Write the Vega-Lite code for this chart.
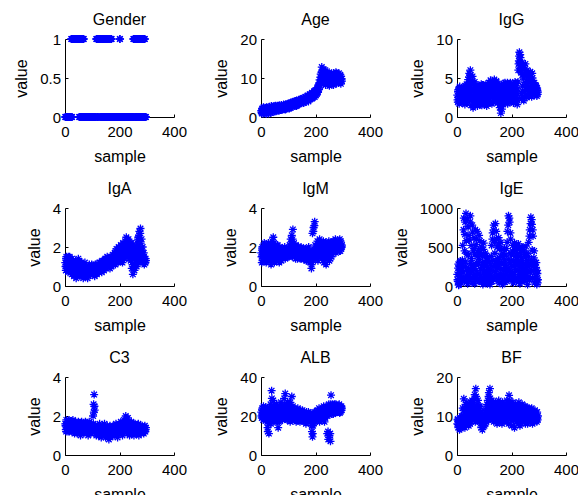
{
"$schema": "https://vega.github.io/schema/vega-lite/v6.json",
"background": "white",
"padding": {"left": 13, "top": 12, "right": 0, "bottom": 0},
"data": {"values": [
{"s":1,"Gender":0,"Age":1.6,"IgG":2.8,"IgA":1.2,"IgM":1.7,"IgE":150,"C3":1.6,"ALB":22,"BF":8},
{"s":3,"Gender":0,"Age":0.9,"IgG":1.9,"IgA":0.8,"IgM":1.2,"IgE":60,"C3":1.3,"ALB":19,"BF":9.2},
{"s":5,"Gender":0,"Age":2.2,"IgG":3.5,"IgA":1.5,"IgM":2.0,"IgE":280,"C3":1.8,"ALB":24,"BF":7},
{"s":7,"Gender":0,"Age":1.3,"IgG":2.3,"IgA":1.0,"IgM":1.5,"IgE":20,"C3":1.4,"ALB":20,"BF":8.6},
{"s":9,"Gender":0,"Age":2.5,"IgG":3.7,"IgA":1.4,"IgM":1.9,"IgE":210,"C3":1.7,"ALB":25,"BF":6.5},
{"s":11,"Gender":0,"Age":1.0,"IgG":2.0,"IgA":0.7,"IgM":1.3,"IgE":120,"C3":1.2,"ALB":18.5,"BF":9},
{"s":13,"Gender":0,"Age":1.9,"IgG":3.1,"IgA":1.3,"IgM":2.1,"IgE":320,"C3":1.5,"ALB":23,"BF":7.5},
{"s":15,"Gender":0,"Age":1.4,"IgG":2.5,"IgA":0.9,"IgM":1.6,"IgE":40,"C3":1.8,"ALB":21,"BF":8.3},
{"s":17,"Gender":0,"Age":2.3,"IgG":3.6,"IgA":1.5,"IgM":1.8,"IgE":240,"C3":1.3,"ALB":24.5,"BF":10},
{"s":19,"Gender":0,"Age":0.8,"IgG":1.8,"IgA":1.1,"IgM":1.2,"IgE":90,"C3":1.6,"ALB":19,"BF":7.2},
{"s":21,"Gender":0,"Age":1.7,"IgG":3.0,"IgA":0.8,"IgM":2.0,"IgE":520,"C3":1.4,"ALB":22,"BF":12},
{"s":23,"Gender":1,"Age":2.4,"IgG":2.2,"IgA":1.3,"IgM":1.4,"IgE":180,"C3":1.7,"ALB":17,"BF":8},
{"s":25,"Gender":0,"Age":1.1,"IgG":3.8,"IgA":0.6,"IgM":1.7,"IgE":870,"C3":1.2,"ALB":12,"BF":14.4},
{"s":27,"Gender":1,"Age":2.0,"IgG":2.6,"IgA":1.1,"IgM":2.2,"IgE":60,"C3":1.5,"ALB":20,"BF":9.5},
{"s":29,"Gender":1,"Age":1.5,"IgG":1.6,"IgA":0.9,"IgM":1.3,"IgE":660,"C3":1.8,"ALB":11,"BF":7},
{"s":31,"Gender":1,"Age":2.6,"IgG":3.4,"IgA":1.2,"IgM":1.9,"IgE":250,"C3":1.3,"ALB":23,"BF":13},
{"s":33,"Gender":1,"Age":1.2,"IgG":2.9,"IgA":0.5,"IgM":1.5,"IgE":930,"C3":1.6,"ALB":18,"BF":10.5},
{"s":35,"Gender":1,"Age":1.8,"IgG":4.2,"IgA":1.0,"IgM":2.1,"IgE":130,"C3":1.1,"ALB":26,"BF":8},
{"s":37,"Gender":1,"Age":2.2,"IgG":2.1,"IgA":0.7,"IgM":1.1,"IgE":410,"C3":1.5,"ALB":21,"BF":12.5},
{"s":39,"Gender":1,"Age":1.4,"IgG":3.3,"IgA":1.3,"IgM":1.8,"IgE":30,"C3":1.7,"ALB":33,"BF":9},
{"s":41,"Gender":1,"Age":2.0,"IgG":4.8,"IgA":0.4,"IgM":2.3,"IgE":760,"C3":1.3,"ALB":24,"BF":11},
{"s":43,"Gender":1,"Age":1.3,"IgG":2.5,"IgA":0.9,"IgM":1.4,"IgE":220,"C3":1.6,"ALB":19,"BF":7.5},
{"s":45,"Gender":1,"Age":2.7,"IgG":5.6,"IgA":1.1,"IgM":2.5,"IgE":590,"C3":1.1,"ALB":28,"BF":13},
{"s":47,"Gender":1,"Age":1.6,"IgG":3.2,"IgA":0.6,"IgM":1.6,"IgE":80,"C3":1.5,"ALB":17,"BF":9},
{"s":49,"Gender":1,"Age":2.3,"IgG":6.0,"IgA":1.4,"IgM":1.2,"IgE":900,"C3":1.7,"ALB":25,"BF":12},
{"s":51,"Gender":1,"Age":1.8,"IgG":1.5,"IgA":0.8,"IgM":2.0,"IgE":170,"C3":1.2,"ALB":21,"BF":8.5},
{"s":53,"Gender":0,"Age":2.9,"IgG":4.4,"IgA":1.2,"IgM":1.5,"IgE":350,"C3":1.4,"ALB":23,"BF":10},
{"s":55,"Gender":1,"Age":1.5,"IgG":2.8,"IgA":0.5,"IgM":1.9,"IgE":40,"C3":1.6,"ALB":18,"BF":14},
{"s":57,"Gender":0,"Age":2.4,"IgG":5.2,"IgA":1.0,"IgM":1.3,"IgE":690,"C3":1.0,"ALB":26,"BF":11.5},
{"s":59,"Gender":1,"Age":2.0,"IgG":1.2,"IgA":0.7,"IgM":1.7,"IgE":260,"C3":1.5,"ALB":20,"BF":9.5},
{"s":61,"Gender":0,"Age":2.6,"IgG":3.6,"IgA":1.1,"IgM":2.1,"IgE":120,"C3":1.7,"ALB":24,"BF":13},
{"s":63,"Gender":1,"Age":1.7,"IgG":2.0,"IgA":0.6,"IgM":1.4,"IgE":480,"C3":1.2,"ALB":14,"BF":10},
{"s":65,"Gender":0,"Age":2.2,"IgG":4.5,"IgA":0.9,"IgM":1.8,"IgE":30,"C3":1.4,"ALB":22,"BF":15.5},
{"s":67,"Gender":1,"Age":3.0,"IgG":1.6,"IgA":0.4,"IgM":1.2,"IgE":720,"C3":1.6,"ALB":17,"BF":8.5},
{"s":69,"Gender":1,"Age":1.9,"IgG":3.2,"IgA":1.0,"IgM":2.0,"IgE":200,"C3":1.1,"ALB":25,"BF":17},
{"s":71,"Gender":0,"Age":2.5,"IgG":2.6,"IgA":0.7,"IgM":1.5,"IgE":600,"C3":1.5,"ALB":19,"BF":11},
{"s":73,"Gender":0,"Age":2.1,"IgG":4.1,"IgA":1.2,"IgM":1.7,"IgE":90,"C3":1.3,"ALB":27,"BF":12.5},
{"s":75,"Gender":0,"Age":3.1,"IgG":1.4,"IgA":0.5,"IgM":1.3,"IgE":380,"C3":1.7,"ALB":21,"BF":9},
{"s":77,"Gender":0,"Age":1.8,"IgG":3.0,"IgA":0.8,"IgM":1.9,"IgE":150,"C3":1.2,"ALB":23,"BF":14},
{"s":79,"Gender":0,"Age":2.7,"IgG":2.3,"IgA":1.0,"IgM":1.6,"IgE":280,"C3":1.5,"ALB":18,"BF":10.5},
{"s":81,"Gender":0,"Age":2.3,"IgG":3.8,"IgA":0.6,"IgM":1.5,"IgE":650,"C3":1.3,"ALB":25,"BF":12},
{"s":83,"Gender":0,"Age":3.2,"IgG":1.8,"IgA":0.4,"IgM":1.9,"IgE":60,"C3":1.6,"ALB":20,"BF":8.5},
{"s":85,"Gender":0,"Age":2.0,"IgG":3.3,"IgA":0.9,"IgM":1.6,"IgE":430,"C3":1.0,"ALB":29,"BF":11},
{"s":87,"Gender":0,"Age":2.8,"IgG":2.7,"IgA":0.7,"IgM":2.0,"IgE":220,"C3":1.4,"ALB":22,"BF":9.5},
{"s":89,"Gender":0,"Age":2.4,"IgG":4.2,"IgA":1.1,"IgM":1.4,"IgE":500,"C3":1.7,"ALB":31.5,"BF":7},
{"s":91,"Gender":0,"Age":3.3,"IgG":1.5,"IgA":0.6,"IgM":1.8,"IgE":110,"C3":1.2,"ALB":19,"BF":10},
{"s":93,"Gender":0,"Age":2.1,"IgG":2.9,"IgA":0.9,"IgM":1.5,"IgE":300,"C3":1.5,"ALB":24,"BF":6.5},
{"s":95,"Gender":0,"Age":2.9,"IgG":3.5,"IgA":0.8,"IgM":1.9,"IgE":20,"C3":1.1,"ALB":21,"BF":9},
{"s":97,"Gender":0,"Age":2.6,"IgG":2.2,"IgA":1.0,"IgM":1.7,"IgE":470,"C3":1.6,"ALB":27,"BF":8},
{"s":99,"Gender":0,"Age":3.4,"IgG":4.0,"IgA":0.7,"IgM":1.5,"IgE":180,"C3":1.3,"ALB":18,"BF":10.5},
{"s":101,"Gender":0,"Age":2.5,"IgG":1.6,"IgA":0.9,"IgM":1.8,"IgE":260,"C3":1.4,"ALB":23,"BF":7.5},
{"s":103,"Gender":0,"Age":3.1,"IgG":3.1,"IgA":0.6,"IgM":1.5,"IgE":80,"C3":2.0,"ALB":20,"BF":9.5},
{"s":105,"Gender":0,"Age":2.8,"IgG":2.5,"IgA":1.0,"IgM":2.1,"IgE":390,"C3":2.6,"ALB":26,"BF":11},
{"s":107,"Gender":0,"Age":3.6,"IgG":3.9,"IgA":0.8,"IgM":1.6,"IgE":150,"C3":3.1,"ALB":17,"BF":8.5},
{"s":109,"Gender":0,"Age":2.4,"IgG":1.4,"IgA":0.5,"IgM":2.4,"IgE":330,"C3":2.3,"ALB":24,"BF":12},
{"s":111,"Gender":0,"Age":3.3,"IgG":2.8,"IgA":1.1,"IgM":1.7,"IgE":30,"C3":1.2,"ALB":21,"BF":10},
{"s":113,"Gender":0,"Age":3.0,"IgG":3.6,"IgA":0.7,"IgM":2.6,"IgE":240,"C3":1.5,"ALB":30,"BF":14},
{"s":115,"Gender":1,"Age":3.8,"IgG":2.1,"IgA":0.9,"IgM":1.5,"IgE":120,"C3":1.0,"ALB":19,"BF":9},
{"s":117,"Gender":1,"Age":2.7,"IgG":4.4,"IgA":0.6,"IgM":2.9,"IgE":190,"C3":1.4,"ALB":25,"BF":16},
{"s":119,"Gender":0,"Age":3.5,"IgG":2.6,"IgA":1.0,"IgM":1.8,"IgE":70,"C3":1.2,"ALB":22,"BF":11},
{"s":121,"Gender":1,"Age":3.2,"IgG":3.2,"IgA":0.8,"IgM":2.2,"IgE":20,"C3":1.5,"ALB":20,"BF":17},
{"s":123,"Gender":1,"Age":4.0,"IgG":4.7,"IgA":1.1,"IgM":1.6,"IgE":280,"C3":1.0,"ALB":18,"BF":12.5},
{"s":125,"Gender":0,"Age":2.9,"IgG":2.0,"IgA":0.7,"IgM":2.0,"IgE":140,"C3":1.3,"ALB":23,"BF":10},
{"s":127,"Gender":1,"Age":3.6,"IgG":3.8,"IgA":0.9,"IgM":1.4,"IgE":520,"C3":1.6,"ALB":21,"BF":14},
{"s":129,"Gender":1,"Age":3.3,"IgG":2.9,"IgA":1.2,"IgM":1.9,"IgE":60,"C3":1.1,"ALB":17,"BF":9},
{"s":131,"Gender":0,"Age":4.2,"IgG":4.3,"IgA":0.8,"IgM":1.7,"IgE":680,"C3":1.4,"ALB":22,"BF":13},
{"s":133,"Gender":1,"Age":3.0,"IgG":1.9,"IgA":1.0,"IgM":1.5,"IgE":250,"C3":0.9,"ALB":19,"BF":11},
{"s":135,"Gender":0,"Age":3.9,"IgG":3.5,"IgA":0.7,"IgM":2.0,"IgE":780,"C3":1.3,"ALB":24,"BF":8.5},
{"s":137,"Gender":1,"Age":3.5,"IgG":4.8,"IgA":1.3,"IgM":1.6,"IgE":110,"C3":1.5,"ALB":20,"BF":12},
{"s":139,"Gender":1,"Age":4.4,"IgG":2.4,"IgA":0.9,"IgM":1.8,"IgE":420,"C3":1.1,"ALB":18,"BF":10},
{"s":141,"Gender":0,"Age":3.4,"IgG":3.9,"IgA":1.1,"IgM":1.5,"IgE":800,"C3":1.4,"ALB":21,"BF":13.5},
{"s":143,"Gender":1,"Age":4.1,"IgG":2.2,"IgA":0.8,"IgM":1.9,"IgE":180,"C3":1.0,"ALB":17,"BF":9},
{"s":145,"Gender":0,"Age":3.8,"IgG":4.5,"IgA":1.3,"IgM":1.6,"IgE":600,"C3":1.6,"ALB":23,"BF":11.5},
{"s":147,"Gender":1,"Age":4.6,"IgG":3.0,"IgA":1.0,"IgM":2.0,"IgE":90,"C3":1.2,"ALB":19,"BF":8},
{"s":149,"Gender":0,"Age":3.5,"IgG":1.8,"IgA":1.4,"IgM":1.4,"IgE":350,"C3":0.9,"ALB":20,"BF":12.5},
{"s":151,"Gender":1,"Age":4.3,"IgG":4.0,"IgA":0.9,"IgM":1.8,"IgE":230,"C3":1.4,"ALB":22,"BF":10},
{"s":153,"Gender":0,"Age":4.0,"IgG":2.6,"IgA":1.2,"IgM":1.5,"IgE":620,"C3":1.1,"ALB":18,"BF":14},
{"s":155,"Gender":1,"Age":4.9,"IgG":3.4,"IgA":1.5,"IgM":1.9,"IgE":40,"C3":1.5,"ALB":21,"BF":8.5},
{"s":157,"Gender":0,"Age":3.7,"IgG":1.2,"IgA":1.0,"IgM":1.6,"IgE":480,"C3":1.0,"ALB":17,"BF":11},
{"s":159,"Gender":0,"Age":4.5,"IgG":2.9,"IgA":1.3,"IgM":1.7,"IgE":160,"C3":1.3,"ALB":20,"BF":13},
{"s":161,"Gender":1,"Age":4.2,"IgG":0.5,"IgA":1.1,"IgM":1.4,"IgE":560,"C3":0.8,"ALB":19,"BF":9.5},
{"s":163,"Gender":0,"Age":5.2,"IgG":2.2,"IgA":1.4,"IgM":1.9,"IgE":120,"C3":1.2,"ALB":21,"BF":12},
{"s":165,"Gender":1,"Age":3.9,"IgG":1.0,"IgA":0.9,"IgM":1.5,"IgE":300,"C3":1.5,"ALB":16,"BF":8},
{"s":167,"Gender":0,"Age":4.8,"IgG":3.3,"IgA":1.2,"IgM":1.8,"IgE":20,"C3":0.9,"ALB":22,"BF":13.5},
{"s":169,"Gender":0,"Age":4.5,"IgG":2.5,"IgA":1.5,"IgM":1.3,"IgE":410,"C3":1.3,"ALB":18,"BF":10.5},
{"s":171,"Gender":1,"Age":5.5,"IgG":4.3,"IgA":1.0,"IgM":1.7,"IgE":200,"C3":1.1,"ALB":20,"BF":11.5},
{"s":173,"Gender":0,"Age":4.2,"IgG":1.9,"IgA":1.3,"IgM":1.5,"IgE":90,"C3":1.4,"ALB":17,"BF":8.5},
{"s":175,"Gender":0,"Age":5.0,"IgG":3.7,"IgA":1.6,"IgM":2.0,"IgE":340,"C3":1.0,"ALB":21,"BF":13},
{"s":177,"Gender":0,"Age":4.7,"IgG":2.8,"IgA":1.1,"IgM":1.4,"IgE":150,"C3":1.5,"ALB":19,"BF":10},
{"s":179,"Gender":0,"Age":5.8,"IgG":4.1,"IgA":1.4,"IgM":1.6,"IgE":260,"C3":1.2,"ALB":20.5,"BF":12},
{"s":181,"Gender":0,"Age":4.6,"IgG":2.1,"IgA":1.2,"IgM":1.2,"IgE":480,"C3":1.4,"ALB":17,"BF":9},
{"s":183,"Gender":0,"Age":5.4,"IgG":3.6,"IgA":1.7,"IgM":1.7,"IgE":60,"C3":1.0,"ALB":21,"BF":14},
{"s":185,"Gender":0,"Age":5.0,"IgG":4.4,"IgA":1.1,"IgM":0.9,"IgE":700,"C3":1.3,"ALB":19,"BF":11},
{"s":187,"Gender":0,"Age":6.2,"IgG":2.4,"IgA":1.5,"IgM":1.5,"IgE":220,"C3":1.6,"ALB":12,"BF":12.5},
{"s":189,"Gender":0,"Age":4.8,"IgG":3.1,"IgA":1.9,"IgM":2.7,"IgE":900,"C3":1.1,"ALB":9.3,"BF":8},
{"s":191,"Gender":0,"Age":5.7,"IgG":1.9,"IgA":1.3,"IgM":1.3,"IgE":130,"C3":1.4,"ALB":15,"BF":15.3},
{"s":193,"Gender":0,"Age":5.3,"IgG":4.0,"IgA":1.6,"IgM":3.0,"IgE":820,"C3":0.9,"ALB":20,"BF":10},
{"s":195,"Gender":0,"Age":6.6,"IgG":2.7,"IgA":1.2,"IgM":1.8,"IgE":300,"C3":1.5,"ALB":18,"BF":13},
{"s":197,"Gender":0,"Age":5.1,"IgG":3.5,"IgA":2.0,"IgM":3.3,"IgE":600,"C3":1.2,"ALB":21,"BF":9},
{"s":199,"Gender":0,"Age":6.0,"IgG":2.2,"IgA":1.4,"IgM":2.1,"IgE":80,"C3":1.6,"ALB":17,"BF":12},
{"s":201,"Gender":1,"Age":5.6,"IgG":4.2,"IgA":1.7,"IgM":1.4,"IgE":400,"C3":1.1,"ALB":20,"BF":7.5},
{"s":203,"Gender":0,"Age":6.9,"IgG":2.6,"IgA":1.3,"IgM":2.0,"IgE":170,"C3":1.4,"ALB":22,"BF":11},
{"s":205,"Gender":0,"Age":5.9,"IgG":3.3,"IgA":2.1,"IgM":1.6,"IgE":520,"C3":1.7,"ALB":18,"BF":13.5},
{"s":207,"Gender":0,"Age":7.5,"IgG":1.8,"IgA":1.5,"IgM":2.3,"IgE":40,"C3":1.2,"ALB":23,"BF":9},
{"s":209,"Gender":0,"Age":6.3,"IgG":3.9,"IgA":1.8,"IgM":1.3,"IgE":260,"C3":1.5,"ALB":19,"BF":12},
{"s":211,"Gender":0,"Age":8.2,"IgG":2.9,"IgA":1.2,"IgM":2.1,"IgE":550,"C3":1.0,"ALB":21,"BF":7},
{"s":213,"Gender":0,"Age":7.0,"IgG":4.5,"IgA":2.2,"IgM":1.7,"IgE":110,"C3":1.6,"ALB":24,"BF":10.5},
{"s":215,"Gender":0,"Age":9.5,"IgG":2.0,"IgA":1.6,"IgM":2.4,"IgE":380,"C3":1.3,"ALB":17,"BF":13},
{"s":217,"Gender":0,"Age":8.0,"IgG":3.2,"IgA":1.9,"IgM":1.5,"IgE":210,"C3":1.8,"ALB":22,"BF":8.5},
{"s":219,"Gender":0,"Age":11.0,"IgG":2.5,"IgA":1.4,"IgM":1.9,"IgE":480,"C3":1.2,"ALB":20,"BF":11.5},
{"s":221,"Gender":0,"Age":9.0,"IgG":1.6,"IgA":2.3,"IgM":2.2,"IgE":90,"C3":1.5,"ALB":23,"BF":9.5},
{"s":223,"Gender":0,"Age":12.8,"IgG":3.6,"IgA":1.7,"IgM":1.4,"IgE":320,"C3":2.0,"ALB":18,"BF":12.5},
{"s":225,"Gender":0,"Age":10.0,"IgG":6.0,"IgA":2.5,"IgM":2.0,"IgE":540,"C3":1.3,"ALB":21,"BF":8},
{"s":227,"Gender":0,"Age":11.8,"IgG":7.2,"IgA":1.5,"IgM":1.6,"IgE":150,"C3":1.7,"ALB":24,"BF":13.5},
{"s":229,"Gender":0,"Age":8.5,"IgG":8.3,"IgA":2.0,"IgM":2.3,"IgE":250,"C3":1.1,"ALB":19,"BF":10},
{"s":231,"Gender":0,"Age":12.2,"IgG":6.6,"IgA":1.8,"IgM":1.2,"IgE":30,"C3":1.9,"ALB":22,"BF":7.5},
{"s":233,"Gender":0,"Age":9.8,"IgG":7.6,"IgA":2.4,"IgM":1.9,"IgE":430,"C3":1.4,"ALB":17,"BF":12},
{"s":235,"Gender":0,"Age":11.0,"IgG":5.7,"IgA":1.4,"IgM":1.5,"IgE":190,"C3":1.6,"ALB":23,"BF":9},
{"s":237,"Gender":0,"Age":8.2,"IgG":2.4,"IgA":2.1,"IgM":2.2,"IgE":360,"C3":1.0,"ALB":20,"BF":11},
{"s":239,"Gender":0,"Age":10.5,"IgG":7.0,"IgA":1.6,"IgM":1.1,"IgE":70,"C3":1.5,"ALB":25,"BF":13},
{"s":241,"Gender":0,"Age":9.0,"IgG":4.0,"IgA":1.3,"IgM":1.8,"IgE":490,"C3":1.3,"ALB":21,"BF":8.5},
{"s":243,"Gender":0,"Age":11.2,"IgG":6.3,"IgA":2.2,"IgM":1.4,"IgE":220,"C3":1.7,"ALB":11,"BF":11},
{"s":245,"Gender":0,"Age":8.3,"IgG":2.1,"IgA":0.9,"IgM":2.1,"IgE":120,"C3":1.1,"ALB":23,"BF":12.5},
{"s":247,"Gender":0,"Age":10.0,"IgG":5.5,"IgA":1.8,"IgM":1.6,"IgE":400,"C3":1.5,"ALB":8,"BF":9},
{"s":249,"Gender":0,"Age":9.5,"IgG":3.2,"IgA":0.6,"IgM":2.3,"IgE":60,"C3":1.2,"ALB":26,"BF":10.5},
{"s":251,"Gender":1,"Age":8.0,"IgG":6.8,"IgA":1.5,"IgM":1.3,"IgE":280,"C3":1.6,"ALB":10,"BF":8},
{"s":253,"Gender":0,"Age":10.8,"IgG":2.8,"IgA":2.0,"IgM":1.9,"IgE":510,"C3":1.0,"ALB":22,"BF":12},
{"s":255,"Gender":1,"Age":8.8,"IgG":4.6,"IgA":0.8,"IgM":1.7,"IgE":140,"C3":1.4,"ALB":7,"BF":9.5},
{"s":257,"Gender":1,"Age":9.6,"IgG":6.0,"IgA":1.7,"IgM":2.2,"IgE":330,"C3":1.6,"ALB":30.7,"BF":11.5},
{"s":259,"Gender":0,"Age":11.0,"IgG":3.5,"IgA":1.2,"IgM":1.5,"IgE":20,"C3":1.2,"ALB":24,"BF":8},
{"s":261,"Gender":1,"Age":8.4,"IgG":5.2,"IgA":1.9,"IgM":2.0,"IgE":250,"C3":1.4,"ALB":22,"BF":11},
{"s":263,"Gender":0,"Age":10.2,"IgG":2.7,"IgA":1.0,"IgM":1.7,"IgE":560,"C3":1.1,"ALB":26,"BF":9},
{"s":265,"Gender":1,"Age":9.1,"IgG":4.8,"IgA":2.2,"IgM":2.3,"IgE":80,"C3":1.5,"ALB":21,"BF":12},
{"s":267,"Gender":0,"Age":11.3,"IgG":3.6,"IgA":1.4,"IgM":1.8,"IgE":720,"C3":1.3,"ALB":24,"BF":10},
{"s":269,"Gender":1,"Age":8.7,"IgG":5.8,"IgA":2.5,"IgM":2.1,"IgE":180,"C3":1.6,"ALB":23,"BF":8.5},
{"s":271,"Gender":0,"Age":10.6,"IgG":2.9,"IgA":1.2,"IgM":1.9,"IgE":880,"C3":1.0,"ALB":25,"BF":11.5},
{"s":273,"Gender":1,"Age":9.3,"IgG":4.3,"IgA":2.8,"IgM":2.4,"IgE":320,"C3":1.4,"ALB":21.5,"BF":9.5},
{"s":275,"Gender":0,"Age":11.5,"IgG":3.4,"IgA":1.6,"IgM":1.7,"IgE":790,"C3":1.2,"ALB":26,"BF":11},
{"s":277,"Gender":1,"Age":8.6,"IgG":5.0,"IgA":2.95,"IgM":2.0,"IgE":100,"C3":1.5,"ALB":22,"BF":8},
{"s":279,"Gender":0,"Age":10.0,"IgG":3.0,"IgA":1.3,"IgM":2.2,"IgE":640,"C3":1.1,"ALB":24,"BF":10.5},
{"s":281,"Gender":0,"Age":9.4,"IgG":4.2,"IgA":2.4,"IgM":1.8,"IgE":260,"C3":1.3,"ALB":25,"BF":9.5},
{"s":283,"Gender":1,"Age":11.0,"IgG":2.8,"IgA":1.5,"IgM":2.3,"IgE":450,"C3":1.5,"ALB":22,"BF":11},
{"s":285,"Gender":0,"Age":8.8,"IgG":3.6,"IgA":2.0,"IgM":1.9,"IgE":40,"C3":1.2,"ALB":23,"BF":8.5},
{"s":287,"Gender":1,"Age":10.3,"IgG":4.1,"IgA":1.2,"IgM":2.1,"IgE":210,"C3":1.4,"ALB":26,"BF":10},
{"s":289,"Gender":0,"Age":9.0,"IgG":3.0,"IgA":1.7,"IgM":2.4,"IgE":120,"C3":1.1,"ALB":21.5,"BF":9},
{"s":291,"Gender":0,"Age":10.8,"IgG":3.8,"IgA":1.1,"IgM":1.8,"IgE":300,"C3":1.3,"ALB":24,"BF":10.5},
{"s":293,"Gender":1,"Age":8.5,"IgG":2.7,"IgA":1.4,"IgM":2.2,"IgE":20,"C3":1.5,"ALB":23,"BF":8.5},
{"s":295,"Gender":0,"Age":9.7,"IgG":3.4,"IgA":1.2,"IgM":2.0,"IgE":160,"C3":1.2,"ALB":25,"BF":9.5},
{"s":297,"Gender":0,"Age":9.2,"IgG":3.2,"IgA":1.3,"IgM":2.1,"IgE":80,"C3":1.4,"ALB":24,"BF":10},
{"s":2,"Gender":0,"Age":1.2,"IgG":2.2,"IgA":1.0,"IgM":1.5,"IgE":80,"C3":1.5,"ALB":20,"BF":9},
{"s":4,"Gender":0,"Age":2.0,"IgG":3.3,"IgA":1.4,"IgM":1.9,"IgE":230,"C3":1.2,"ALB":23,"BF":7.8},
{"s":6,"Gender":0,"Age":1.5,"IgG":2.6,"IgA":0.9,"IgM":1.3,"IgE":10,"C3":1.6,"ALB":21.5,"BF":8.8},
{"s":8,"Gender":0,"Age":0.9,"IgG":1.7,"IgA":1.3,"IgM":1.7,"IgE":170,"C3":1.4,"ALB":18,"BF":7.5},
{"s":10,"Gender":0,"Age":2.4,"IgG":3.9,"IgA":1.1,"IgM":1.4,"IgE":300,"C3":1.3,"ALB":22,"BF":9.5},
{"s":12,"Gender":0,"Age":1.7,"IgG":2.9,"IgA":1.5,"IgM":2.2,"IgE":60,"C3":1.7,"ALB":24,"BF":8},
{"s":14,"Gender":0,"Age":1.1,"IgG":2.1,"IgA":0.8,"IgM":1.6,"IgE":190,"C3":1.4,"ALB":20,"BF":6.8},
{"s":16,"Gender":0,"Age":2.1,"IgG":3.4,"IgA":1.2,"IgM":1.9,"IgE":260,"C3":1.2,"ALB":22.5,"BF":9.2},
{"s":18,"Gender":0,"Age":1.6,"IgG":2.4,"IgA":1.0,"IgM":1.4,"IgE":110,"C3":1.6,"ALB":18,"BF":8.5},
{"s":20,"Gender":0,"Age":2.5,"IgG":3.0,"IgA":1.4,"IgM":1.7,"IgE":330,"C3":1.4,"ALB":23,"BF":8.8},
{"s":22,"Gender":0,"Age":1.3,"IgG":2.4,"IgA":1.1,"IgM":1.6,"IgE":280,"C3":1.6,"ALB":19,"BF":10},
{"s":24,"Gender":1,"Age":2.1,"IgG":3.6,"IgA":0.7,"IgM":1.9,"IgE":720,"C3":1.3,"ALB":14,"BF":11.5},
{"s":26,"Gender":0,"Age":1.8,"IgG":1.9,"IgA":1.4,"IgM":1.4,"IgE":100,"C3":1.5,"ALB":21,"BF":9},
{"s":28,"Gender":1,"Age":0.9,"IgG":3.1,"IgA":0.8,"IgM":1.7,"IgE":450,"C3":1.7,"ALB":16,"BF":12},
{"s":30,"Gender":1,"Age":2.5,"IgG":4.0,"IgA":1.2,"IgM":2.0,"IgE":820,"C3":1.2,"ALB":24,"BF":10.5},
{"s":32,"Gender":1,"Age":1.6,"IgG":2.3,"IgA":0.6,"IgM":1.5,"IgE":310,"C3":1.5,"ALB":20,"BF":8.5},
{"s":34,"Gender":1,"Age":2.2,"IgG":3.7,"IgA":1.1,"IgM":1.8,"IgE":580,"C3":1.3,"ALB":22,"BF":11},
{"s":36,"Gender":1,"Age":1.0,"IgG":1.8,"IgA":0.9,"IgM":1.3,"IgE":200,"C3":1.6,"ALB":16,"BF":13.5},
{"s":38,"Gender":1,"Age":2.8,"IgG":2.7,"IgA":1.2,"IgM":2.0,"IgE":860,"C3":1.4,"ALB":25,"BF":10},
{"s":40,"Gender":1,"Age":1.7,"IgG":4.1,"IgA":0.8,"IgM":1.5,"IgE":120,"C3":1.2,"ALB":29,"BF":11.5},
{"s":42,"Gender":1,"Age":2.5,"IgG":3.6,"IgA":0.7,"IgM":1.7,"IgE":400,"C3":1.5,"ALB":20,"BF":9.5},
{"s":44,"Gender":1,"Age":1.7,"IgG":5.1,"IgA":1.2,"IgM":2.0,"IgE":650,"C3":1.3,"ALB":23,"BF":12},
{"s":46,"Gender":1,"Age":2.1,"IgG":2.2,"IgA":0.5,"IgM":1.8,"IgE":130,"C3":1.6,"ALB":18,"BF":10.5},
{"s":48,"Gender":1,"Age":2.8,"IgG":4.0,"IgA":1.0,"IgM":2.2,"IgE":820,"C3":1.2,"ALB":22,"BF":8},
{"s":50,"Gender":1,"Age":1.4,"IgG":5.4,"IgA":0.8,"IgM":1.5,"IgE":290,"C3":1.4,"ALB":26,"BF":13.5},
{"s":52,"Gender":0,"Age":2.6,"IgG":3.4,"IgA":1.3,"IgM":1.7,"IgE":520,"C3":1.5,"ALB":19,"BF":11},
{"s":54,"Gender":1,"Age":1.9,"IgG":2.3,"IgA":0.6,"IgM":2.1,"IgE":210,"C3":1.2,"ALB":24,"BF":12.5},
{"s":56,"Gender":0,"Age":2.3,"IgG":4.7,"IgA":1.1,"IgM":1.4,"IgE":780,"C3":1.4,"ALB":20,"BF":10},
{"s":58,"Gender":1,"Age":1.6,"IgG":3.6,"IgA":0.9,"IgM":1.8,"IgE":100,"C3":1.3,"ALB":22,"BF":13},
{"s":60,"Gender":0,"Age":2.9,"IgG":2.1,"IgA":1.2,"IgM":1.5,"IgE":450,"C3":1.6,"ALB":17,"BF":12},
{"s":62,"Gender":1,"Age":2.0,"IgG":2.9,"IgA":0.8,"IgM":1.6,"IgE":620,"C3":1.4,"ALB":20,"BF":11},
{"s":64,"Gender":0,"Age":2.8,"IgG":4.0,"IgA":1.0,"IgM":1.9,"IgE":250,"C3":1.5,"ALB":22,"BF":14.5},
{"s":66,"Gender":1,"Age":1.6,"IgG":2.5,"IgA":0.6,"IgM":1.5,"IgE":410,"C3":1.3,"ALB":18,"BF":9.5},
{"s":68,"Gender":0,"Age":2.4,"IgG":3.7,"IgA":1.1,"IgM":1.7,"IgE":110,"C3":1.2,"ALB":23,"BF":12},
{"s":70,"Gender":0,"Age":2.7,"IgG":1.9,"IgA":0.5,"IgM":1.4,"IgE":530,"C3":1.6,"ALB":21,"BF":15},
{"s":72,"Gender":0,"Age":1.8,"IgG":3.4,"IgA":0.9,"IgM":1.8,"IgE":300,"C3":1.3,"ALB":25,"BF":10},
{"s":74,"Gender":0,"Age":2.9,"IgG":2.2,"IgA":0.7,"IgM":1.6,"IgE":700,"C3":1.5,"ALB":19,"BF":13},
{"s":76,"Gender":0,"Age":2.3,"IgG":3.9,"IgA":1.0,"IgM":1.9,"IgE":160,"C3":1.4,"ALB":22,"BF":11.5},
{"s":78,"Gender":0,"Age":2.6,"IgG":2.7,"IgA":0.6,"IgM":1.5,"IgE":460,"C3":1.6,"ALB":20,"BF":10},
{"s":80,"Gender":0,"Age":2.0,"IgG":1.7,"IgA":0.8,"IgM":1.8,"IgE":60,"C3":1.3,"ALB":24,"BF":12.5},
{"s":82,"Gender":0,"Age":2.8,"IgG":2.5,"IgA":0.9,"IgM":1.7,"IgE":340,"C3":1.5,"ALB":21,"BF":10},
{"s":84,"Gender":0,"Age":2.2,"IgG":3.9,"IgA":0.7,"IgM":1.6,"IgE":580,"C3":1.2,"ALB":23,"BF":12.5},
{"s":86,"Gender":0,"Age":3.0,"IgG":1.6,"IgA":0.5,"IgM":1.8,"IgE":130,"C3":1.4,"ALB":19,"BF":8},
{"s":88,"Gender":0,"Age":2.5,"IgG":3.6,"IgA":1.0,"IgM":1.5,"IgE":400,"C3":1.5,"ALB":26,"BF":11},
{"s":90,"Gender":0,"Age":1.9,"IgG":2.3,"IgA":0.8,"IgM":1.9,"IgE":260,"C3":1.3,"ALB":22,"BF":9},
{"s":92,"Gender":0,"Age":2.7,"IgG":3.2,"IgA":1.0,"IgM":1.6,"IgE":90,"C3":1.4,"ALB":20,"BF":8.5},
{"s":94,"Gender":0,"Age":3.2,"IgG":4.1,"IgA":0.6,"IgM":1.7,"IgE":380,"C3":1.2,"ALB":25,"BF":10.5},
{"s":96,"Gender":0,"Age":2.3,"IgG":1.9,"IgA":0.7,"IgM":1.5,"IgE":200,"C3":1.5,"ALB":18,"BF":7.5},
{"s":98,"Gender":0,"Age":3.0,"IgG":3.7,"IgA":1.1,"IgM":1.8,"IgE":550,"C3":1.3,"ALB":22,"BF":10},
{"s":100,"Gender":0,"Age":2.6,"IgG":2.9,"IgA":0.9,"IgM":1.6,"IgE":40,"C3":1.5,"ALB":21,"BF":9},
{"s":102,"Gender":0,"Age":3.4,"IgG":3.5,"IgA":0.7,"IgM":1.6,"IgE":150,"C3":1.2,"ALB":19,"BF":10},
{"s":104,"Gender":0,"Age":2.2,"IgG":2.0,"IgA":1.0,"IgM":1.9,"IgE":420,"C3":1.6,"ALB":24,"BF":8},
{"s":106,"Gender":0,"Age":3.2,"IgG":4.2,"IgA":0.8,"IgM":1.7,"IgE":50,"C3":2.2,"ALB":21,"BF":11.5},
{"s":108,"Gender":0,"Age":2.6,"IgG":3.0,"IgA":0.6,"IgM":2.0,"IgE":290,"C3":2.5,"ALB":27,"BF":9.5},
{"s":110,"Gender":0,"Age":3.7,"IgG":2.3,"IgA":1.0,"IgM":1.6,"IgE":110,"C3":1.5,"ALB":20,"BF":13},
{"s":112,"Gender":0,"Age":2.9,"IgG":4.0,"IgA":0.8,"IgM":2.2,"IgE":360,"C3":1.3,"ALB":23,"BF":10.5},
{"s":114,"Gender":0,"Age":2.6,"IgG":1.7,"IgA":1.1,"IgM":1.8,"IgE":210,"C3":1.1,"ALB":18,"BF":12},
{"s":116,"Gender":1,"Age":3.3,"IgG":3.3,"IgA":0.7,"IgM":2.4,"IgE":60,"C3":1.3,"ALB":22,"BF":15},
{"s":118,"Gender":0,"Age":3.9,"IgG":2.9,"IgA":0.9,"IgM":1.6,"IgE":310,"C3":1.1,"ALB":20,"BF":10},
{"s":120,"Gender":1,"Age":3.1,"IgG":3.8,"IgA":0.8,"IgM":2.0,"IgE":140,"C3":1.4,"ALB":24,"BF":13.5},
{"s":122,"Gender":0,"Age":3.6,"IgG":2.6,"IgA":1.0,"IgM":1.8,"IgE":200,"C3":1.2,"ALB":22,"BF":14.5},
{"s":124,"Gender":1,"Age":3.0,"IgG":4.1,"IgA":0.7,"IgM":1.5,"IgE":90,"C3":1.4,"ALB":19,"BF":11},
{"s":126,"Gender":1,"Age":4.1,"IgG":3.4,"IgA":1.2,"IgM":1.7,"IgE":380,"C3":1.0,"ALB":21,"BF":13},
{"s":128,"Gender":0,"Age":3.4,"IgG":1.7,"IgA":0.8,"IgM":2.1,"IgE":60,"C3":1.2,"ALB":18,"BF":10},
{"s":130,"Gender":1,"Age":2.8,"IgG":4.5,"IgA":1.0,"IgM":1.6,"IgE":600,"C3":1.3,"ALB":20,"BF":12},
{"s":132,"Gender":1,"Age":3.9,"IgG":2.6,"IgA":1.1,"IgM":1.9,"IgE":330,"C3":1.1,"ALB":23,"BF":9.5},
{"s":134,"Gender":0,"Age":3.6,"IgG":4.0,"IgA":0.8,"IgM":1.4,"IgE":720,"C3":1.4,"ALB":21,"BF":13.5},
{"s":136,"Gender":1,"Age":3.2,"IgG":2.8,"IgA":1.2,"IgM":1.7,"IgE":190,"C3":1.0,"ALB":19,"BF":10.5},
{"s":138,"Gender":0,"Age":4.3,"IgG":3.4,"IgA":1.0,"IgM":2.0,"IgE":560,"C3":1.2,"ALB":22,"BF":11},
{"s":140,"Gender":1,"Age":3.7,"IgG":4.4,"IgA":1.1,"IgM":1.5,"IgE":260,"C3":1.4,"ALB":20,"BF":12.5},
{"s":142,"Gender":1,"Age":3.8,"IgG":3.0,"IgA":1.3,"IgM":1.7,"IgE":310,"C3":1.2,"ALB":19,"BF":10.5},
{"s":144,"Gender":0,"Age":4.4,"IgG":4.6,"IgA":1.0,"IgM":1.4,"IgE":700,"C3":1.3,"ALB":22,"BF":12},
{"s":146,"Gender":1,"Age":3.6,"IgG":2.5,"IgA":1.1,"IgM":1.8,"IgE":140,"C3":1.1,"ALB":18,"BF":9.5},
{"s":148,"Gender":0,"Age":4.0,"IgG":3.7,"IgA":1.4,"IgM":1.6,"IgE":500,"C3":1.4,"ALB":21,"BF":13},
{"s":150,"Gender":1,"Age":4.7,"IgG":4.2,"IgA":1.1,"IgM":1.9,"IgE":280,"C3":1.2,"ALB":19,"BF":10},
{"s":152,"Gender":0,"Age":3.9,"IgG":2.3,"IgA":1.2,"IgM":1.5,"IgE":60,"C3":1.1,"ALB":23,"BF":11.5},
{"s":154,"Gender":1,"Age":4.4,"IgG":3.8,"IgA":1.4,"IgM":1.7,"IgE":540,"C3":1.3,"ALB":20,"BF":9},
{"s":156,"Gender":0,"Age":3.6,"IgG":2.0,"IgA":1.1,"IgM":1.4,"IgE":300,"C3":1.2,"ALB":18,"BF":12.5},
{"s":158,"Gender":1,"Age":4.8,"IgG":3.1,"IgA":1.3,"IgM":1.9,"IgE":120,"C3":1.4,"ALB":22,"BF":10},
{"s":160,"Gender":0,"Age":4.2,"IgG":1.5,"IgA":1.1,"IgM":1.5,"IgE":380,"C3":1.1,"ALB":19,"BF":11.5},
{"s":162,"Gender":1,"Age":4.6,"IgG":1.4,"IgA":1.3,"IgM":1.6,"IgE":220,"C3":1.0,"ALB":20,"BF":11},
{"s":164,"Gender":0,"Age":4.0,"IgG":3.0,"IgA":1.1,"IgM":1.7,"IgE":470,"C3":1.3,"ALB":18,"BF":10},
{"s":166,"Gender":0,"Age":5.0,"IgG":2.0,"IgA":1.4,"IgM":1.3,"IgE":60,"C3":1.1,"ALB":21,"BF":12.5},
{"s":168,"Gender":1,"Age":4.4,"IgG":3.9,"IgA":1.0,"IgM":1.6,"IgE":380,"C3":1.2,"ALB":19,"BF":9},
{"s":170,"Gender":1,"Age":5.3,"IgG":1.6,"IgA":1.3,"IgM":1.8,"IgE":150,"C3":1.0,"ALB":20,"BF":12},
{"s":172,"Gender":0,"Age":4.6,"IgG":3.5,"IgA":1.5,"IgM":1.5,"IgE":290,"C3":1.3,"ALB":18,"BF":10},
{"s":174,"Gender":0,"Age":4.0,"IgG":2.7,"IgA":1.2,"IgM":1.7,"IgE":480,"C3":1.2,"ALB":22,"BF":11.5},
{"s":176,"Gender":0,"Age":5.4,"IgG":4.4,"IgA":1.4,"IgM":1.3,"IgE":50,"C3":1.3,"ALB":18,"BF":9.5},
{"s":178,"Gender":0,"Age":4.9,"IgG":2.2,"IgA":1.5,"IgM":1.8,"IgE":230,"C3":1.1,"ALB":21,"BF":12.5},
{"s":180,"Gender":0,"Age":5.2,"IgG":3.2,"IgA":1.2,"IgM":1.5,"IgE":400,"C3":1.4,"ALB":18,"BF":10.5},
{"s":182,"Gender":0,"Age":5.1,"IgG":3.9,"IgA":1.5,"IgM":1.5,"IgE":180,"C3":1.2,"ALB":20,"BF":12},
{"s":184,"Gender":0,"Age":5.8,"IgG":2.8,"IgA":1.3,"IgM":1.3,"IgE":560,"C3":1.5,"ALB":18,"BF":10.5},
{"s":186,"Gender":0,"Age":4.7,"IgG":1.7,"IgA":1.8,"IgM":1.1,"IgE":90,"C3":1.1,"ALB":15,"BF":13.5},
{"s":188,"Gender":0,"Age":5.5,"IgG":3.7,"IgA":1.4,"IgM":1.8,"IgE":780,"C3":1.3,"ALB":19,"BF":10},
{"s":190,"Gender":0,"Age":6.0,"IgG":4.2,"IgA":1.6,"IgM":1.4,"IgE":340,"C3":1.3,"ALB":11,"BF":12},
{"s":192,"Gender":0,"Age":5.2,"IgG":2.6,"IgA":1.7,"IgM":2.8,"IgE":870,"C3":1.2,"ALB":20,"BF":11},
{"s":194,"Gender":0,"Age":6.3,"IgG":3.2,"IgA":1.3,"IgM":1.6,"IgE":200,"C3":1.4,"ALB":17,"BF":14},
{"s":196,"Gender":0,"Age":5.6,"IgG":4.4,"IgA":1.8,"IgM":3.1,"IgE":680,"C3":1.1,"ALB":22,"BF":10.5},
{"s":198,"Gender":0,"Age":6.8,"IgG":2.0,"IgA":1.5,"IgM":1.5,"IgE":420,"C3":1.4,"ALB":19,"BF":13},
{"s":200,"Gender":0,"Age":5.5,"IgG":3.6,"IgA":1.7,"IgM":1.8,"IgE":140,"C3":1.3,"ALB":21,"BF":10},
{"s":202,"Gender":1,"Age":6.4,"IgG":2.8,"IgA":1.5,"IgM":1.8,"IgE":250,"C3":1.3,"ALB":18,"BF":10},
{"s":204,"Gender":0,"Age":6.2,"IgG":3.8,"IgA":1.9,"IgM":1.5,"IgE":450,"C3":1.2,"ALB":21,"BF":12.5},
{"s":206,"Gender":0,"Age":7.0,"IgG":2.3,"IgA":1.4,"IgM":2.0,"IgE":90,"C3":1.4,"ALB":20,"BF":9.5},
{"s":208,"Gender":0,"Age":6.8,"IgG":4.1,"IgA":2.0,"IgM":1.7,"IgE":330,"C3":1.5,"ALB":19,"BF":11},
{"s":210,"Gender":0,"Age":7.8,"IgG":2.5,"IgA":1.6,"IgM":1.9,"IgE":150,"C3":1.3,"ALB":22,"BF":10},
{"s":212,"Gender":0,"Age":7.2,"IgG":3.6,"IgA":1.9,"IgM":1.6,"IgE":460,"C3":1.4,"ALB":18,"BF":12.5},
{"s":214,"Gender":0,"Age":8.6,"IgG":1.9,"IgA":1.5,"IgM":2.2,"IgE":280,"C3":1.2,"ALB":20,"BF":9},
{"s":216,"Gender":0,"Age":8.8,"IgG":3.8,"IgA":2.1,"IgM":1.8,"IgE":520,"C3":1.5,"ALB":22,"BF":11},
{"s":218,"Gender":0,"Age":10.2,"IgG":4.3,"IgA":1.7,"IgM":2.1,"IgE":60,"C3":1.4,"ALB":19,"BF":12},
{"s":220,"Gender":0,"Age":9.6,"IgG":3.0,"IgA":2.0,"IgM":1.6,"IgE":300,"C3":1.6,"ALB":23,"BF":10},
{"s":222,"Gender":0,"Age":11.4,"IgG":2.2,"IgA":1.9,"IgM":1.8,"IgE":410,"C3":1.7,"ALB":21,"BF":11},
{"s":224,"Gender":0,"Age":10.6,"IgG":4.5,"IgA":2.1,"IgM":2.1,"IgE":200,"C3":1.4,"ALB":20,"BF":10.5},
{"s":226,"Gender":0,"Age":12.0,"IgG":6.8,"IgA":1.6,"IgM":1.5,"IgE":380,"C3":1.8,"ALB":23,"BF":12},
{"s":228,"Gender":0,"Age":9.5,"IgG":7.8,"IgA":2.2,"IgM":2.0,"IgE":60,"C3":1.5,"ALB":21,"BF":9},
{"s":230,"Gender":0,"Age":10.8,"IgG":7.0,"IgA":1.7,"IgM":1.7,"IgE":470,"C3":1.6,"ALB":25,"BF":11.5},
{"s":232,"Gender":0,"Age":11.5,"IgG":8.0,"IgA":2.3,"IgM":2.2,"IgE":300,"C3":1.3,"ALB":20,"BF":10.5},
{"s":234,"Gender":0,"Age":9.2,"IgG":6.2,"IgA":1.6,"IgM":1.4,"IgE":120,"C3":1.7,"ALB":24,"BF":9},
{"s":236,"Gender":0,"Age":12.0,"IgG":3.0,"IgA":2.0,"IgM":2.0,"IgE":260,"C3":1.4,"ALB":19,"BF":12.5},
{"s":238,"Gender":0,"Age":9.6,"IgG":6.5,"IgA":1.8,"IgM":1.6,"IgE":500,"C3":1.3,"ALB":22,"BF":10},
{"s":240,"Gender":0,"Age":11.3,"IgG":5.4,"IgA":2.2,"IgM":1.9,"IgE":180,"C3":1.6,"ALB":23,"BF":11},
{"s":242,"Gender":0,"Age":10.2,"IgG":3.3,"IgA":1.8,"IgM":2.0,"IgE":300,"C3":1.5,"ALB":24,"BF":10},
{"s":244,"Gender":0,"Age":9.4,"IgG":5.0,"IgA":1.4,"IgM":1.5,"IgE":80,"C3":1.3,"ALB":20,"BF":12},
{"s":246,"Gender":0,"Age":10.9,"IgG":6.6,"IgA":1.9,"IgM":1.8,"IgE":450,"C3":1.4,"ALB":12,"BF":9.5},
{"s":248,"Gender":0,"Age":8.5,"IgG":2.6,"IgA":1.1,"IgM":2.2,"IgE":180,"C3":1.6,"ALB":22,"BF":11},
{"s":250,"Gender":0,"Age":11.5,"IgG":4.4,"IgA":2.1,"IgM":1.6,"IgE":370,"C3":1.4,"ALB":9,"BF":12.5},
{"s":252,"Gender":1,"Age":9.1,"IgG":3.8,"IgA":0.9,"IgM":2.0,"IgE":100,"C3":1.3,"ALB":24,"BF":10},
{"s":254,"Gender":0,"Age":9.8,"IgG":5.9,"IgA":1.4,"IgM":1.4,"IgE":240,"C3":1.5,"ALB":11,"BF":9.5},
{"s":256,"Gender":1,"Age":10.4,"IgG":2.5,"IgA":1.6,"IgM":2.1,"IgE":420,"C3":1.2,"ALB":26,"BF":11},
{"s":258,"Gender":0,"Age":8.6,"IgG":4.0,"IgA":1.1,"IgM":1.8,"IgE":190,"C3":1.4,"ALB":21,"BF":10},
{"s":260,"Gender":1,"Age":9.8,"IgG":5.4,"IgA":1.8,"IgM":2.0,"IgE":280,"C3":1.5,"ALB":23,"BF":12},
{"s":262,"Gender":1,"Age":9.6,"IgG":3.9,"IgA":1.5,"IgM":1.8,"IgE":380,"C3":1.2,"ALB":24,"BF":10},
{"s":264,"Gender":0,"Age":10.8,"IgG":4.5,"IgA":2.0,"IgM":2.2,"IgE":120,"C3":1.3,"ALB":21,"BF":11.5},
{"s":266,"Gender":1,"Age":8.2,"IgG":2.8,"IgA":1.7,"IgM":1.9,"IgE":640,"C3":1.4,"ALB":25,"BF":9.5},
{"s":268,"Gender":0,"Age":10.0,"IgG":5.5,"IgA":2.4,"IgM":2.0,"IgE":290,"C3":1.2,"ALB":22,"BF":11},
{"s":270,"Gender":1,"Age":9.8,"IgG":3.4,"IgA":1.6,"IgM":2.3,"IgE":800,"C3":1.3,"ALB":26,"BF":10.5},
{"s":272,"Gender":0,"Age":11.0,"IgG":4.7,"IgA":2.6,"IgM":1.8,"IgE":200,"C3":1.4,"ALB":23,"BF":9},
{"s":274,"Gender":1,"Age":8.9,"IgG":2.6,"IgA":1.9,"IgM":2.1,"IgE":850,"C3":1.2,"ALB":24,"BF":12},
{"s":276,"Gender":0,"Age":10.2,"IgG":5.6,"IgA":2.7,"IgM":2.2,"IgE":460,"C3":1.3,"ALB":22.5,"BF":9.5},
{"s":278,"Gender":0,"Age":11.2,"IgG":3.8,"IgA":2.2,"IgM":1.9,"IgE":720,"C3":1.4,"ALB":25,"BF":11},
{"s":280,"Gender":1,"Age":9.2,"IgG":4.4,"IgA":1.8,"IgM":2.0,"IgE":200,"C3":1.3,"ALB":23,"BF":9.5},
{"s":282,"Gender":0,"Age":10.1,"IgG":3.4,"IgA":1.8,"IgM":2.1,"IgE":360,"C3":1.2,"ALB":23,"BF":10.5},
{"s":284,"Gender":1,"Age":8.7,"IgG":4.4,"IgA":1.3,"IgM":1.9,"IgE":110,"C3":1.4,"ALB":25,"BF":9},
{"s":286,"Gender":0,"Age":11.2,"IgG":2.9,"IgA":1.6,"IgM":2.2,"IgE":300,"C3":1.3,"ALB":22,"BF":11.5},
{"s":288,"Gender":1,"Age":9.6,"IgG":3.5,"IgA":1.4,"IgM":1.8,"IgE":60,"C3":1.2,"ALB":24,"BF":9},
{"s":290,"Gender":0,"Age":10.0,"IgG":4.0,"IgA":1.5,"IgM":2.0,"IgE":240,"C3":1.4,"ALB":25,"BF":10},
{"s":292,"Gender":1,"Age":8.9,"IgG":3.1,"IgA":1.3,"IgM":2.3,"IgE":100,"C3":1.3,"ALB":22,"BF":9.5},
{"s":294,"Gender":0,"Age":10.4,"IgG":3.7,"IgA":1.2,"IgM":1.9,"IgE":200,"C3":1.4,"ALB":24,"BF":11},
{"s":296,"Gender":0,"Age":9.8,"IgG":2.9,"IgA":1.4,"IgM":2.0,"IgE":40,"C3":1.3,"ALB":23,"BF":9}
]},
"columns": 3,
"spacing": {"row": 91, "column": 87},
"bounds": "flush",
"concat": [
{"title": "Gender", "width": 109, "height": 78,
 "mark": {"type": "point", "shape": "M-1,0L1,0M0,-1L0,1M-0.7,-0.7L0.7,0.7M-0.7,0.7L0.7,-0.7", "filled": false, "color": "#0000ff", "strokeWidth": 1.3, "size": 64, "opacity": 1},
 "encoding": {
  "x": {"field": "s", "type": "quantitative", "scale": {"domain": [0, 400], "nice": false}, "axis": {"values": [0, 200, 400]}, "title": "sample"},
  "y": {"field": "Gender", "type": "quantitative", "scale": {"domain": [0, 1], "nice": false}, "axis": {"values": [0, 0.5, 1], "format": ".1~f"}, "title": "value"}}},
{"title": "Age", "width": 109, "height": 78,
 "mark": {"type": "point", "shape": "M-1,0L1,0M0,-1L0,1M-0.7,-0.7L0.7,0.7M-0.7,0.7L0.7,-0.7", "filled": false, "color": "#0000ff", "strokeWidth": 1.3, "size": 64, "opacity": 1},
 "encoding": {
  "x": {"field": "s", "type": "quantitative", "scale": {"domain": [0, 400], "nice": false}, "axis": {"values": [0, 200, 400]}, "title": "sample"},
  "y": {"field": "Age", "type": "quantitative", "scale": {"domain": [0, 20], "nice": false}, "axis": {"values": [0, 10, 20]}, "title": "value"}}},
{"title": "IgG", "width": 109, "height": 78,
 "mark": {"type": "point", "shape": "M-1,0L1,0M0,-1L0,1M-0.7,-0.7L0.7,0.7M-0.7,0.7L0.7,-0.7", "filled": false, "color": "#0000ff", "strokeWidth": 1.3, "size": 64, "opacity": 1},
 "encoding": {
  "x": {"field": "s", "type": "quantitative", "scale": {"domain": [0, 400], "nice": false}, "axis": {"values": [0, 200, 400]}, "title": "sample"},
  "y": {"field": "IgG", "type": "quantitative", "scale": {"domain": [0, 10], "nice": false}, "axis": {"values": [0, 5, 10]}, "title": "value"}}},
{"title": "IgA", "width": 109, "height": 78,
 "mark": {"type": "point", "shape": "M-1,0L1,0M0,-1L0,1M-0.7,-0.7L0.7,0.7M-0.7,0.7L0.7,-0.7", "filled": false, "color": "#0000ff", "strokeWidth": 1.3, "size": 64, "opacity": 1},
 "encoding": {
  "x": {"field": "s", "type": "quantitative", "scale": {"domain": [0, 400], "nice": false}, "axis": {"values": [0, 200, 400]}, "title": "sample"},
  "y": {"field": "IgA", "type": "quantitative", "scale": {"domain": [0, 4], "nice": false}, "axis": {"values": [0, 2, 4]}, "title": "value"}}},
{"title": "IgM", "width": 109, "height": 78,
 "mark": {"type": "point", "shape": "M-1,0L1,0M0,-1L0,1M-0.7,-0.7L0.7,0.7M-0.7,0.7L0.7,-0.7", "filled": false, "color": "#0000ff", "strokeWidth": 1.3, "size": 64, "opacity": 1},
 "encoding": {
  "x": {"field": "s", "type": "quantitative", "scale": {"domain": [0, 400], "nice": false}, "axis": {"values": [0, 200, 400]}, "title": "sample"},
  "y": {"field": "IgM", "type": "quantitative", "scale": {"domain": [0, 4], "nice": false}, "axis": {"values": [0, 2, 4]}, "title": "value"}}},
{"title": "IgE", "width": 109, "height": 78,
 "mark": {"type": "point", "shape": "M-1,0L1,0M0,-1L0,1M-0.7,-0.7L0.7,0.7M-0.7,0.7L0.7,-0.7", "filled": false, "color": "#0000ff", "strokeWidth": 1.3, "size": 64, "opacity": 1},
 "encoding": {
  "x": {"field": "s", "type": "quantitative", "scale": {"domain": [0, 400], "nice": false}, "axis": {"values": [0, 200, 400]}, "title": "sample"},
  "y": {"field": "IgE", "type": "quantitative", "scale": {"domain": [0, 1000], "nice": false}, "axis": {"values": [0, 500, 1000], "format": "d"}, "title": "value"}}},
{"title": "C3", "width": 109, "height": 78,
 "mark": {"type": "point", "shape": "M-1,0L1,0M0,-1L0,1M-0.7,-0.7L0.7,0.7M-0.7,0.7L0.7,-0.7", "filled": false, "color": "#0000ff", "strokeWidth": 1.3, "size": 64, "opacity": 1},
 "encoding": {
  "x": {"field": "s", "type": "quantitative", "scale": {"domain": [0, 400], "nice": false}, "axis": {"values": [0, 200, 400]}, "title": "sample"},
  "y": {"field": "C3", "type": "quantitative", "scale": {"domain": [0, 4], "nice": false}, "axis": {"values": [0, 2, 4]}, "title": "value"}}},
{"title": "ALB", "width": 109, "height": 78,
 "mark": {"type": "point", "shape": "M-1,0L1,0M0,-1L0,1M-0.7,-0.7L0.7,0.7M-0.7,0.7L0.7,-0.7", "filled": false, "color": "#0000ff", "strokeWidth": 1.3, "size": 64, "opacity": 1},
 "encoding": {
  "x": {"field": "s", "type": "quantitative", "scale": {"domain": [0, 400], "nice": false}, "axis": {"values": [0, 200, 400]}, "title": "sample"},
  "y": {"field": "ALB", "type": "quantitative", "scale": {"domain": [0, 40], "nice": false}, "axis": {"values": [0, 20, 40]}, "title": "value"}}},
{"title": "BF", "width": 109, "height": 78,
 "mark": {"type": "point", "shape": "M-1,0L1,0M0,-1L0,1M-0.7,-0.7L0.7,0.7M-0.7,0.7L0.7,-0.7", "filled": false, "color": "#0000ff", "strokeWidth": 1.3, "size": 64, "opacity": 1},
 "encoding": {
  "x": {"field": "s", "type": "quantitative", "scale": {"domain": [0, 400], "nice": false}, "axis": {"values": [0, 200, 400]}, "title": "sample"},
  "y": {"field": "BF", "type": "quantitative", "scale": {"domain": [0, 20], "nice": false}, "axis": {"values": [0, 10, 20]}, "title": "value"}}}
],
"config": {
 "view": {"stroke": null},
 "font": "Liberation Sans",
 "axis": {"grid": false, "domainColor": "#000000", "domainWidth": 1, "tickColor": "#000000", "tickSize": -3, "labelColor": "#000000", "titleColor": "#000000", "labelFontSize": 15, "titleFontSize": 16, "titleFontWeight": "normal", "labelFlush": false, "labelOverlap": false},
 "axisX": {"labelPadding": 10, "titlePadding": 9},
 "axisY": {"labelPadding": 7.5, "titlePadding": 10},
 "title": {"fontSize": 16, "fontWeight": "normal", "color": "#000000", "offset": 4}
}
}
